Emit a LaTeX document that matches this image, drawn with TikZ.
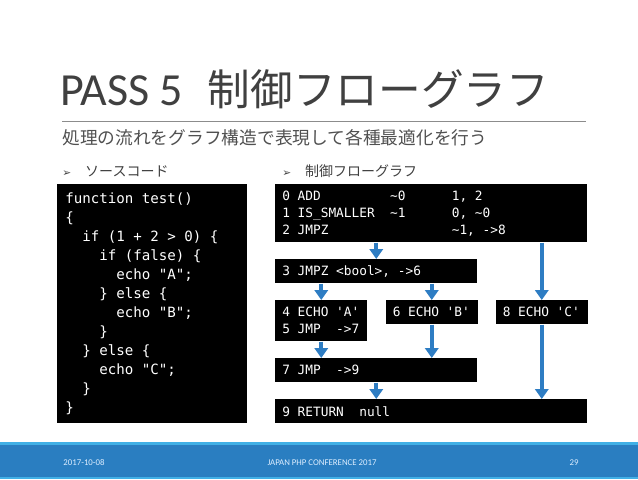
\documentclass[tikz,border=0pt]{standalone}
\usepackage{fontspec}
\usepackage{xcolor}
\usepackage{tikz}
\usetikzlibrary{arrows.meta}

\setmainfont{Noto Sans CJK JP}
\newfontfamily\latinfont{Carlito}
\newfontfamily\monofont[WordSpace={1,0,0}]{DejaVu Sans Mono}
\newfontfamily\symbolfont{DejaVu Sans}
\newfontfamily\footerfont{Carlito}

\definecolor{titlegray}{HTML}{404040}
\definecolor{subgray}{HTML}{505050}
\definecolor{rulegray}{HTML}{8C8C8C}
\definecolor{flowblue}{HTML}{2E7DC3}
\definecolor{footblue}{HTML}{2A7EC1}
\definecolor{footlight}{HTML}{41B0E6}
\definecolor{foottext}{HTML}{DDEEFF}

\newlength\cw
\newcommand\monospacing{\settowidth{\cw}{0}\spaceskip=\cw\relax\hyphenchar\font=-1\relax}
\newcommand\cfgcol[2]{\makebox[#1\cw][l]{#2}}
\newcommand\codeind[1]{\hspace*{#1\cw}}

\begin{document}
\begin{tikzpicture}[x=0.75pt, y=-0.75pt,
    cfgbox/.style={fill=black, text=white, anchor=north west, align=left, inner xsep=5.25pt, inner ysep=0pt,
        font=\monofont\fontsize{9.6pt}{12.75pt}\selectfont, execute at begin node=\monospacing},
    codebox/.style={fill=black, text=white, anchor=north west, align=left, inner xsep=6pt, inner ysep=0pt,
        font=\monofont\fontsize{10.6pt}{14.25pt}\selectfont, execute at begin node=\monospacing},
    flow/.style={draw=flowblue, line width=3pt, -{Triangle[width=10pt,length=7.5pt]}},
    head/.style={anchor=west, text=titlegray, inner sep=0pt, font=\fontsize{10.5pt}{12pt}\selectfont},
    foot/.style={text=foottext, inner sep=0pt, font=\footerfont\fontsize{6.6pt}{8pt}\selectfont}]
    \useasboundingbox (0,0) rectangle (638,479);

    % Title
    \node[anchor=base west, text=titlegray, inner sep=0pt] (title) at (60,105)
        {{\latinfont\fontsize{34.5pt}{40pt}\selectfont PASS 5}\hspace{18.5pt}{\fontsize{32pt}{38pt}\selectfont 制御フローグラフ}};
    \coordinate (ruleL) at (62,121);
    \coordinate (ruleR) at (586,121);
    \draw[rulegray, line width=0.75pt] (ruleL) -- (ruleR);
    \node[anchor=west, text=subgray, inner sep=0pt, font=\fontsize{13.3pt}{16pt}\selectfont] (subtitle) at (62,138)
        {処理の流れをグラフ構造で表現して各種最適化を行う};

    % Headings
    \node[head] (srchead) at (62,171) {{\symbolfont\fontsize{8pt}{10pt}\selectfont ➢}\hspace{10.5pt}ソースコード};
    \node[head] (cfghead) at (282,171) {{\symbolfont\fontsize{8pt}{10pt}\selectfont ➢}\hspace{10.5pt}制御フローグラフ};

    % Source code
    \node[codebox, text width=130.5pt, minimum height=179.25pt] (code) at (57,184) {%
        function test()\\
        \{\\
        \codeind{2}if (1 + 2 > 0) \{\\
        \codeind{4}if (false) \{\\
        \codeind{6}echo "A";\\
        \codeind{4}\} else \{\\
        \codeind{6}echo "B";\\
        \codeind{4}\}\\
        \codeind{2}\} else \{\\
        \codeind{4}echo "C";\\
        \codeind{2}\}\\
        \}};

    % Blocks
    \node[cfgbox, text width=223.5pt, minimum height=43.5pt] (b0) at (275,184) {%
        \cfgcol{14}{0 ADD}\cfgcol{8}{\textasciitilde0}1, 2\\
        \cfgcol{14}{1 IS\_SMALLER}\cfgcol{8}{\textasciitilde1}0, \textasciitilde0\\
        \cfgcol{22}{2 JMPZ}\textasciitilde1, ->8};
    \node[cfgbox, text width=141pt, minimum height=18pt] (b3) at (275,259) {3 JMPZ <bool>, ->6};
    \node[cfgbox, text width=58.5pt, minimum height=30.75pt] (b4) at (275,300) {%
        4 ECHO 'A'\\
        \cfgcol{7}{5 JMP}->7};
    \node[cfgbox, text width=58.5pt, minimum height=18pt] (b6) at (385.5,300) {6 ECHO 'B'};
    \node[cfgbox, text width=58.5pt, minimum height=18pt] (b8) at (495.5,300) {8 ECHO 'C'};
    \node[cfgbox, text width=141pt, minimum height=18pt] (b7) at (275,358) {\cfgcol{7}{7 JMP}->9};
    \node[cfgbox, text width=223.5pt, minimum height=18pt] (b9) at (275,399) {\cfgcol{10}{9 RETURN}null};

    % Edges
    \draw[flow] (b0.south -| b3.north) -- (b3.north);
    \draw[flow] (b0.south -| b8.north) -- (b8.north);
    \draw[flow] (b3.south -| b4.north) -- (b4.north);
    \draw[flow] (b3.south -| b6.north) -- (b6.north);
    \draw[flow] (b4.south) -- (b7.north -| b4.south);
    \draw[flow] (b6.south) -- (b7.north -| b6.south);
    \draw[flow] (b7.south) -- (b9.north -| b7.south);
    \draw[flow] (b8.south) -- (b9.north -| b8.south);

    % Footer
    \fill[footblue] (0,444) rectangle (638,477);
    \fill[footlight] (0,442) rectangle (638,444.5);
    \fill[footlight] (0,477) rectangle (638,479);
    \node[foot] (date) at (84,463) {2017-10-08};
    \node[foot] (conf) at (322,463) {JAPAN PHP CONFERENCE 2017};
    \node[foot] (page) at (574,463) {29};
\end{tikzpicture}
\end{document}
